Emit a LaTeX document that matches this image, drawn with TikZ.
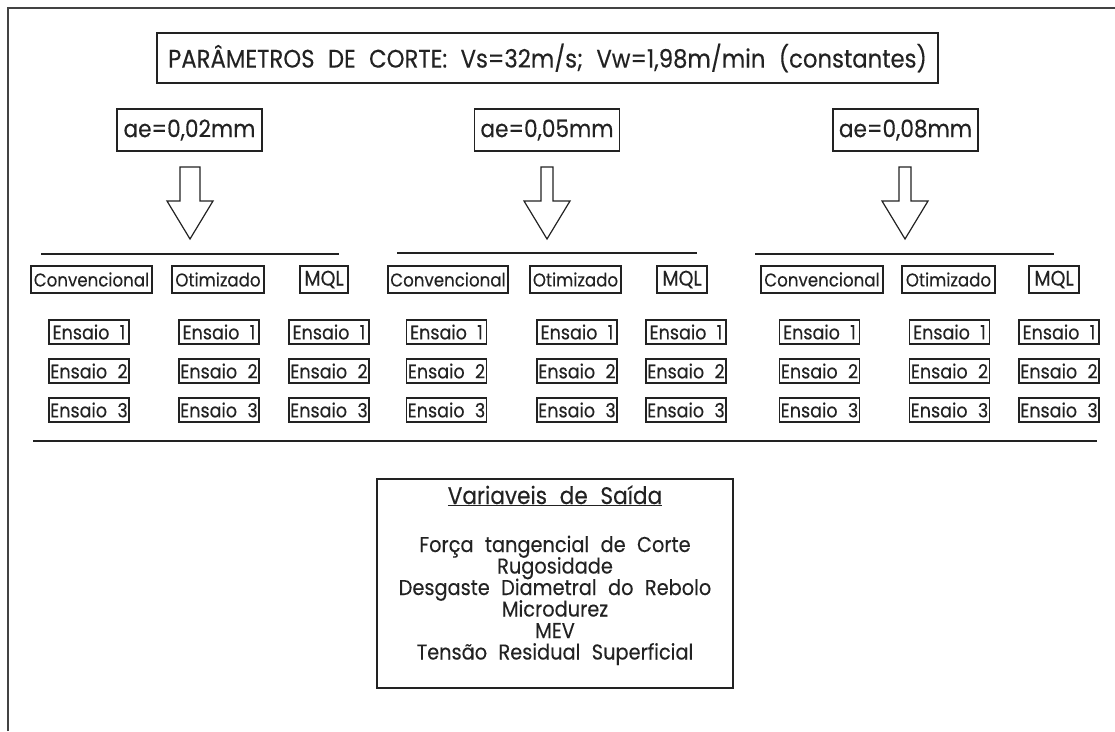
\documentclass[tikz,border=0pt]{standalone}
\usepackage{fontspec}
\setmainfont{Poppins}[FakeStretch=0.9,WordSpace=2.2,FakeBold=0.25]
\definecolor{ink}{HTML}{222222}
\begin{document}
\begin{tikzpicture}[x=1pt,y=-1pt,
  line/.style={draw=ink,line width=1.4pt},
  frameline/.style={draw=ink!85,line width=2pt},
  box/.style={draw=ink,line width=1.4pt,inner sep=0pt,text=ink},
  titlebox/.style={box,minimum width=781pt,minimum height=50pt,font=\fontsize{25.3}{25.3}\selectfont},
  aebox/.style={box,minimum width=145pt,minimum height=42pt,font=\fontsize{24}{24}\selectfont},
  catbox/.style={box,minimum height=27pt,font=\fontsize{18.5}{18.5}\selectfont},
  mqlbox/.style={catbox,font=\fontsize{21}{21}\selectfont},
  runbox/.style={box,minimum width=80pt,minimum height=24pt,font=\fontsize{19.5}{19.5}\selectfont},
  outbox/.style={box,minimum width=356pt,minimum height=209pt},
  outtext/.style={inner sep=0pt,anchor=base,text=ink,font=\fontsize{21.5}{21.5}\selectfont},
  blockarrow/.style={draw=ink,line width=1.2pt,line join=miter}
]
\useasboundingbox (0,0) rectangle (1115,731);

% outer frame (left and top edges)
\coordinate (fr-bl) at (8,731);
\coordinate (fr-tl) at (8,8);
\coordinate (fr-tr) at (1115,8);
\draw[frameline] (fr-bl) -- (fr-tl) -- (fr-tr);

% cutting parameters
\node[titlebox] (title) at (547.5,58) {PARÂMETROS DE CORTE: Vs=32m/s; Vw=1,98m/min (constantes)};

% depth of cut boxes
\node[aebox] (ae1) at (189.5,130) {ae=0,02mm};
\node[aebox] (ae2) at (547,130) {ae=0,05mm};
\node[aebox] (ae3) at (905.5,130) {ae=0,08mm};

% block arrows below each depth of cut
\draw[blockarrow] (180,167) -- (200,167) -- (200,201) -- (213,201) -- (190,239) -- (167,201) -- (180,201) -- cycle;
\draw[blockarrow] (541,167) -- (553,167) -- (553,201) -- (570,201) -- (547,239) -- (524,201) -- (541,201) -- cycle;
\draw[blockarrow] (899,167) -- (911,167) -- (911,201) -- (928,201) -- (905,239) -- (882,201) -- (899,201) -- cycle;

% rules under the arrows
\coordinate (r1a) at (41,254);  \coordinate (r1b) at (339,254);
\coordinate (r2a) at (397,253); \coordinate (r2b) at (697,253);
\coordinate (r3a) at (755,254); \coordinate (r3b) at (1054,254);
\draw[line] (r1a) -- (r1b);
\draw[line] (r2a) -- (r2b);
\draw[line] (r3a) -- (r3b);

% lubrication conditions
\node[catbox,minimum width=121pt] (conv1) at (91.5,279.5) {Convencional};
\node[catbox,minimum width=92pt]  (otim1) at (218,279.5) {Otimizado};
\node[mqlbox,minimum width=48pt]  (mql1)  at (324,279.5) {MQL};
\node[catbox,minimum width=120pt] (conv2) at (448,279.5) {Convencional};
\node[catbox,minimum width=91pt]  (otim2) at (575.5,279.5) {Otimizado};
\node[mqlbox,minimum width=50pt]  (mql2)  at (682,279.5) {MQL};
\node[catbox,minimum width=122pt] (conv3) at (822,279.5) {Convencional};
\node[catbox,minimum width=93pt]  (otim3) at (948.5,279.5) {Otimizado};
\node[mqlbox,minimum width=50pt]  (mql3)  at (1054,279.5) {MQL};

% test runs
\foreach \g/\xa/\xb/\xc in {1/89/219/329, 2/446.5/577/686, 3/819.5/949.5/1059}{
  \foreach \r/\y in {1/332, 2/371, 3/410}{
    \node[runbox] (e\g a\r) at (\xa,\y) {Ensaio \r};
    \node[runbox] (e\g b\r) at (\xb,\y) {Ensaio \r};
    \node[runbox] (e\g c\r) at (\xc,\y) {Ensaio \r};
  }
}

% separator
\coordinate (sepa) at (33,441);
\coordinate (sepb) at (1097,441);
\draw[line] (sepa) -- (sepb);

% output variables
\node[outbox] (out) at (555,583.5) {};
\node[outtext,font=\fontsize{24}{24}\selectfont] (outhead) at (555,504) {\underline{Variaveis de Saída}};
\node[outtext] (o1) at (555,552) {Força tangencial de Corte};
\node[outtext] (o2) at (555,573.5) {Rugosidade};
\node[outtext] (o3) at (555,595) {Desgaste Diametral do Rebolo};
\node[outtext] (o4) at (555,616.5) {Microdurez};
\node[outtext] (o5) at (555,638) {MEV};
\node[outtext] (o6) at (555,659.5) {Tensão Residual Superficial};
\end{tikzpicture}
\end{document}
